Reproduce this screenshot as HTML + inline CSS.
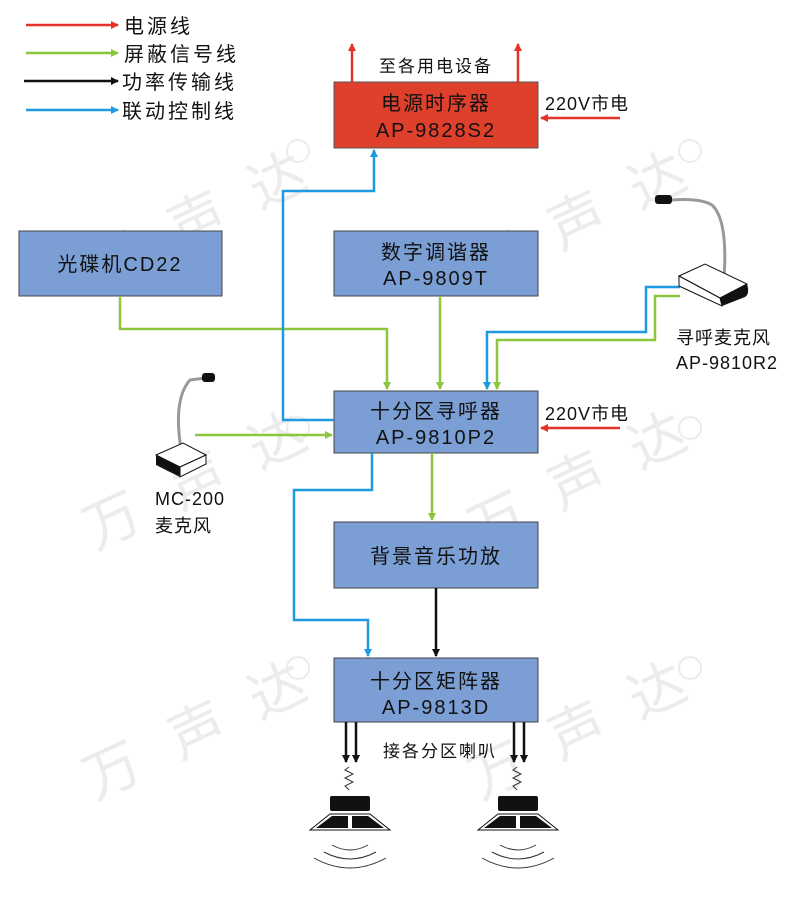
<!DOCTYPE html>
<html><head><meta charset="utf-8"><style>
body{margin:0;background:#fff}
svg{display:block}
text{font-family:"Liberation Sans","Noto Sans CJK SC",sans-serif}
.wm{fill:#ececec;font-size:56px;font-family:"Noto Sans CJK SC",sans-serif}
.r{fill:none;stroke:#ececec;stroke-width:2}
</style></head><body>
<svg width="800" height="900" viewBox="0 0 800 900" xmlns="http://www.w3.org/2000/svg">
<defs>
<marker id="ar" markerWidth="8" markerHeight="8" refX="7" refY="4" orient="auto" markerUnits="userSpaceOnUse"><path d="M0,0L8,4L0,8z" fill="#e53228"/></marker>
<marker id="ag" markerWidth="8" markerHeight="8" refX="7" refY="4" orient="auto" markerUnits="userSpaceOnUse"><path d="M0,0L8,4L0,8z" fill="#8cc63f"/></marker>
<marker id="ak" markerWidth="8" markerHeight="8" refX="7" refY="4" orient="auto" markerUnits="userSpaceOnUse"><path d="M0,0L8,4L0,8z" fill="#111"/></marker>
<marker id="ab" markerWidth="8" markerHeight="8" refX="7" refY="4" orient="auto" markerUnits="userSpaceOnUse"><path d="M0,0L8,4L0,8z" fill="#1e9ae0"/></marker>
</defs>
<g>
<text class="wm" transform="translate(95,290) rotate(-25)">万</text>
<text class="wm" transform="translate(180,250) rotate(-25)">声</text>
<text class="wm" transform="translate(260,210) rotate(-25)">达</text>
<text class="wm" transform="translate(480,290) rotate(-25)">万</text>
<text class="wm" transform="translate(560,250) rotate(-25)">声</text>
<text class="wm" transform="translate(640,210) rotate(-25)">达</text>
<text class="wm" transform="translate(95,550) rotate(-25)">万</text>
<text class="wm" transform="translate(180,510) rotate(-25)">声</text>
<text class="wm" transform="translate(260,470) rotate(-25)">达</text>
<text class="wm" transform="translate(480,550) rotate(-25)">万</text>
<text class="wm" transform="translate(560,510) rotate(-25)">声</text>
<text class="wm" transform="translate(640,470) rotate(-25)">达</text>
<text class="wm" transform="translate(95,800) rotate(-25)">万</text>
<text class="wm" transform="translate(180,760) rotate(-25)">声</text>
<text class="wm" transform="translate(260,720) rotate(-25)">达</text>
<text class="wm" transform="translate(480,800) rotate(-25)">万</text>
<text class="wm" transform="translate(560,760) rotate(-25)">声</text>
<text class="wm" transform="translate(640,720) rotate(-25)">达</text>
<circle class="r" cx="298" cy="151" r="11"/><circle class="r" cx="690" cy="151" r="11"/>
<circle class="r" cx="298" cy="428" r="11"/><circle class="r" cx="690" cy="428" r="11"/>
<circle class="r" cx="298" cy="668" r="11"/><circle class="r" cx="690" cy="668" r="11"/>
</g>
<g stroke-width="2.5">
<line x1="26" y1="25" x2="118" y2="25" stroke="#e53228" marker-end="url(#ar)"/>
<line x1="26" y1="53" x2="118" y2="53" stroke="#8cc63f" marker-end="url(#ag)"/>
<line x1="24" y1="81" x2="118" y2="81" stroke="#111" marker-end="url(#ak)"/>
<line x1="26" y1="110" x2="118" y2="110" stroke="#1e9ae0" marker-end="url(#ab)"/>
</g>
<g font-size="20" fill="#111" letter-spacing="3">
<text x="124" y="33">电源线</text>
<text x="124" y="61">屏蔽信号线</text>
<text x="122" y="89">功率传输线</text>
<text x="122" y="118">联动控制线</text>
</g>
<rect x="334" y="82" width="204" height="66" fill="#df402c" stroke="#555"/>
<rect x="19" y="231" width="203" height="65" fill="#7b9fd4" stroke="#444"/>
<rect x="334" y="231" width="204" height="65" fill="#7b9fd4" stroke="#444"/>
<rect x="334" y="391" width="204" height="62" fill="#7b9fd4" stroke="#444"/>
<rect x="334" y="522" width="204" height="66" fill="#7b9fd4" stroke="#444"/>
<rect x="334" y="658" width="204" height="64" fill="#7b9fd4" stroke="#444"/>
<g font-size="20" fill="#111" text-anchor="middle" letter-spacing="2">
<text x="436" y="110">电源时序器</text><text x="436" y="137">AP-9828S2</text>
<text x="120" y="271">光碟机CD22</text>
<text x="436" y="259">数字调谐器</text><text x="436" y="285">AP-9809T</text>
<text x="436" y="418">十分区寻呼器</text><text x="436" y="444">AP-9810P2</text>
<text x="436" y="563">背景音乐功放</text>
<text x="436" y="688">十分区矩阵器</text><text x="436" y="714">AP-9813D</text>
<text x="436" y="72" font-size="17">至各用电设备</text>
<text x="440" y="757" font-size="17">接各分区喇叭</text>
</g>
<g font-size="18" fill="#111" letter-spacing="1">
<text x="545" y="110">220V市电</text>
<text x="545" y="420">220V市电</text>
<text x="676" y="344">寻呼麦克风</text>
<text x="676" y="369">AP-9810R2</text>
<text x="155" y="505">MC-200</text>
<text x="155" y="532">麦克风</text>
</g>
<g stroke="#e53228" stroke-width="2.5" fill="none">
<line x1="352" y1="82" x2="352" y2="44" marker-end="url(#ar)"/>
<line x1="518" y1="82" x2="518" y2="44" marker-end="url(#ar)"/>
<line x1="620" y1="118" x2="541" y2="118" marker-end="url(#ar)"/>
<line x1="620" y1="428" x2="541" y2="428" marker-end="url(#ar)"/>
</g>
<g stroke="#8cc63f" stroke-width="2.5" fill="none">
<polyline points="120,296 120,329 387,329 387,389" marker-end="url(#ag)"/>
<line x1="440" y1="296" x2="440" y2="389" marker-end="url(#ag)"/>
<polyline points="680,296 655,296 655,340 497,340 497,389" marker-end="url(#ag)"/>
<line x1="195" y1="435" x2="332" y2="435" marker-end="url(#ag)"/>
<line x1="432" y1="453" x2="432" y2="520" marker-end="url(#ag)"/>
</g>
<g stroke="#1e9ae0" stroke-width="2.5" fill="none">
<polyline points="680,287 646,287 646,332 487,332 487,389" marker-end="url(#ab)"/>
<polyline points="334,420 283,420 283,191 374,191 374,150" marker-end="url(#ab)"/>
<polyline points="372,453 372,490 294,490 294,620 368,620 368,656" marker-end="url(#ab)"/>
</g>
<g stroke="#111" stroke-width="2.5" fill="none">
<line x1="436" y1="588" x2="436" y2="656" marker-end="url(#ak)"/>
<line x1="346" y1="722" x2="346" y2="762" marker-end="url(#ak)"/>
<line x1="356" y1="722" x2="356" y2="762" marker-end="url(#ak)"/>
<line x1="514" y1="722" x2="514" y2="762" marker-end="url(#ak)"/>
<line x1="524" y1="722" x2="524" y2="762" marker-end="url(#ak)"/>
</g>
<g id="spk">
<polyline points="349,767 345,770 353,774 345,778 353,782 345,786 349,790" fill="none" stroke="#333" stroke-width="1"/>
<rect x="330" y="796" width="40" height="15" rx="2" fill="#111"/>
<path d="M310,830 L330,814 L370,814 L390,830 Z" fill="#fff" stroke="#111"/>
<path d="M316,828 L332,816 L348,816 L348,828 Z M352,816 L368,816 L384,828 L352,828 Z" fill="#111"/>
<path d="M332,845 Q350,855 368,845 M324,852 Q350,866 376,852 M314,858 Q350,878 386,858" fill="none" stroke="#333" stroke-width="1"/>
</g>
<use href="#spk" x="168"/>
<g>
<path d="M182,455 Q172,400 190,380 L205,378" fill="none" stroke="#999" stroke-width="3"/>
<rect x="202" y="373" width="13" height="9" rx="3" fill="#111"/>
<path d="M156,455 L183,443 L206,455 L180,467 Z" fill="#fff" stroke="#111"/>
<path d="M156,455 L180,467 L180,477 L156,465 Z" fill="#111"/>
<path d="M180,467 L206,455 L206,464 L180,477 Z" fill="#fff" stroke="#111"/>
</g>
<g>
<path d="M724,278 Q728,220 712,205 Q700,198 672,200" fill="none" stroke="#999" stroke-width="3"/>
<rect x="655" y="195" width="17" height="9" rx="3" fill="#111"/>
<path d="M679,276 L705,264 L747,284 L720,298 Z" fill="#fff" stroke="#111"/>
<path d="M679,276 L720,298 L722,306 L679,286 Z" fill="#fff" stroke="#111"/>
<path d="M720,298 L747,284 Q750,294 745,297 L722,306 Z" fill="#111"/>
</g>
</svg>
</body></html>
